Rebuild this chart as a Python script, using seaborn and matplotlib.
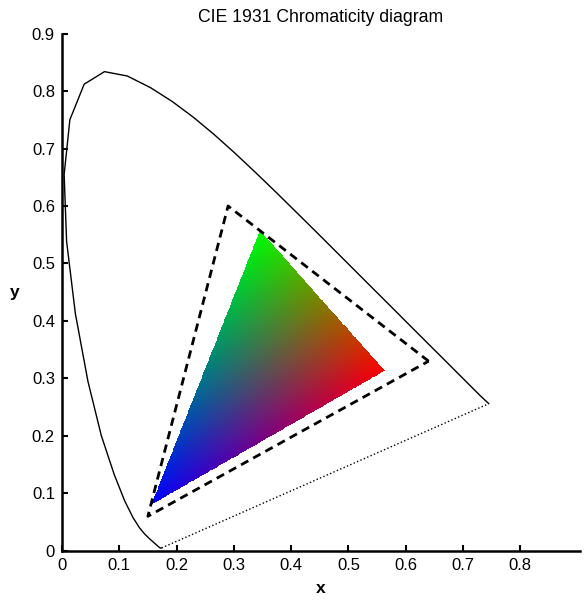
import numpy as np
import pandas as pd
import seaborn as sns
import matplotlib.pyplot as plt

# spectral locus (CIE 1931 2 deg), red tail end
locus_x = [0.1741, 0.1740, 0.1738, 0.1736, 0.1733, 0.1730, 0.1726, 0.1721, 0.1714, 0.1703,
           0.1689, 0.1669, 0.1644, 0.1611, 0.1566, 0.1510, 0.1440, 0.1355, 0.1241, 0.1096,
           0.0913, 0.0687, 0.0454, 0.0235, 0.0082, 0.0039, 0.0139, 0.0389, 0.0743, 0.1142,
           0.1547, 0.1929, 0.2296, 0.2658, 0.3016, 0.3373, 0.3731, 0.4087, 0.4441, 0.4788,
           0.5125, 0.5448, 0.5752, 0.6029, 0.6270, 0.6482, 0.6658, 0.6801, 0.6915, 0.7006,
           0.7079, 0.7140, 0.7190, 0.7230, 0.7260, 0.7300, 0.7450]
locus_y = [0.0050, 0.0050, 0.0049, 0.0049, 0.0048, 0.0048, 0.0048, 0.0048, 0.0051, 0.0058,
           0.0069, 0.0086, 0.0109, 0.0138, 0.0177, 0.0227, 0.0297, 0.0399, 0.0578, 0.0868,
           0.1327, 0.2007, 0.2950, 0.4127, 0.5384, 0.6548, 0.7502, 0.8120, 0.8338, 0.8262,
           0.8059, 0.7816, 0.7543, 0.7243, 0.6923, 0.6589, 0.6245, 0.5896, 0.5547, 0.5202,
           0.4866, 0.4544, 0.4242, 0.3965, 0.3725, 0.3514, 0.3340, 0.3197, 0.3083, 0.2993,
           0.2920, 0.2859, 0.2809, 0.2770, 0.2740, 0.2700, 0.2560]

# sRGB gamut (dashed) and the filled gradient triangle
gamut_x = [0.64, 0.29, 0.15, 0.64]
gamut_y = [0.33, 0.60, 0.06, 0.33]
fill_x = [0.563, 0.345, 0.155]   # R, G, B corners
fill_y = [0.313, 0.557, 0.080]

sns.set_style("ticks", {"axes.edgecolor": "black", "text.color": "black",
                        "xtick.color": "black", "ytick.color": "black"})
plt.rcParams['font.family'] = ['Liberation Sans', 'DejaVu Sans']

fig = plt.figure(figsize=(5.84, 6.0), dpi=100)
ax = fig.add_axes([0.106, 0.082, 0.887, 0.862])

df = pd.DataFrame({"x": locus_x, "y": locus_y})
sns.lineplot(data=df, x="x", y="y", sort=False, color="black", lw=1, ax=ax)

# line of purples
ax.plot([locus_x[0], locus_x[-1]], [locus_y[0], locus_y[-1]], ls=":", color="black", lw=1)

# gradient fill via barycentric weights -> RGB
x0, x1 = min(fill_x), max(fill_x)
y0, y1 = min(fill_y), max(fill_y)
gx, gy = np.meshgrid(np.linspace(x0, x1, 500), np.linspace(y0, y1, 500))
(xr, xg, xb), (yr, yg, yb) = fill_x, fill_y
den = (yg - yb) * (xr - xb) + (xb - xg) * (yr - yb)
wr = ((yg - yb) * (gx - xb) + (xb - xg) * (gy - yb)) / den
wg = ((yb - yr) * (gx - xb) + (xr - xb) * (gy - yb)) / den
wb = 1 - wr - wg
inside = (wr >= 0) & (wg >= 0) & (wb >= 0)
img = np.dstack([np.clip(wr, 0, 1), np.clip(wg, 0, 1), np.clip(wb, 0, 1), inside.astype(float)])
ax.imshow(img, extent=[x0, x1, y0, y1], origin="lower", interpolation="nearest", aspect="auto", zorder=1)

ax.plot(gamut_x, gamut_y, ls=(0, (3, 2)), color="black", lw=2, zorder=3)

ax.set_xlim(0, 0.904)
ax.set_ylim(0, 0.9)
ax.set_xticks(np.arange(0, 0.81, 0.1))
ax.set_yticks(np.arange(0, 0.91, 0.1))
ax.set_xticklabels(["0", "0.1", "0.2", "0.3", "0.4", "0.5", "0.6", "0.7", "0.8"])
ax.set_yticklabels(["0", "0.1", "0.2", "0.3", "0.4", "0.5", "0.6", "0.7", "0.8", "0.9"])
ax.tick_params(direction="in", length=4, width=1.5, labelsize=12, pad=5, colors="black")
sns.despine(ax=ax)
for s in ["left", "bottom"]:
    ax.spines[s].set_linewidth(1.8)

ax.set_title("CIE 1931 Chromaticity diagram", fontsize=12.7, pad=8, color="black")
ax.set_xlabel("x", fontsize=12.5, fontweight="bold", labelpad=6, color="black")
ax.set_ylabel("y", fontsize=12.5, fontweight="bold", rotation=0, labelpad=12, va="center", color="black")

fig.savefig("out.png", dpi=100)
